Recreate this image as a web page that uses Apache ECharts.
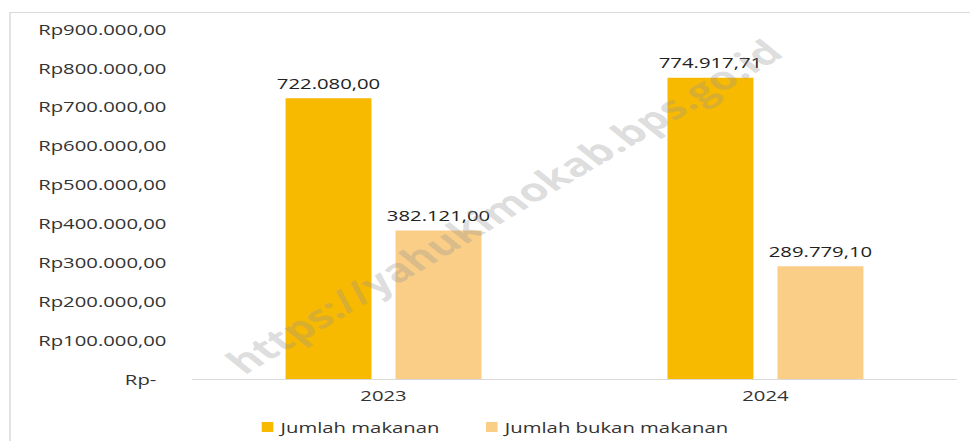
<!DOCTYPE html>
<html>
<head>
<meta charset="utf-8">
<script src="https://cdn.jsdelivr.net/npm/echarts@6/dist/echarts.min.js"></script>
<style>
html,body{margin:0;padding:0;background:#fff;overflow:hidden;}
#wrap{width:970px;height:441px;overflow:hidden;position:relative;}
#chart{width:668.97px;height:441px;transform:scaleX(1.45);transform-origin:0 0;}
</style>
</head>
<body>
<div id="wrap"><div id="chart"></div></div>
<script>
const categories = ['2023', '2024'];
const seriesNames = ['Jumlah makanan', 'Jumlah bukan makanan'];
const makanan = [722080.00, 774917.71];
const bukanMakanan = [382121.00, 289779.10];
const yTicks = [0, 100000, 200000, 300000, 400000, 500000, 600000, 700000, 800000, 900000];
const watermarkText = 'https://yahukimokab.bps.go.id';

function fmtID(v) {
  const parts = v.toFixed(2).split('.');
  const intPart = parts[0].replace(/\B(?=(\d{3})+(?!\d))/g, '.');
  return intPart + ',' + parts[1];
}

const FONT = '"Open Sans", "Noto Sans", sans-serif';
const chart = echarts.init(document.getElementById('chart'), null, {renderer: 'svg'});
const option = {
  animation: false,
  backgroundColor: '#ffffff',
  textStyle: {fontFamily: FONT},
  grid: {left: 132.8, right: 9.4, top: 29, bottom: 62, containLabel: false},
  legend: {
    left: 180.5, top: 420, padding: 0,
    itemWidth: 8, itemHeight: 10, itemGap: 32,
    icon: 'rect',
    textStyle: {fontFamily: FONT, fontSize: 14, color: '#333'},
    data: seriesNames
  },
  xAxis: {
    type: 'category',
    data: categories,
    axisLine: {lineStyle: {color: '#d9d9d9', width: 1}},
    axisTick: {show: false},
    axisLabel: {color: '#333', fontSize: 14, fontFamily: FONT, margin: 9}
  },
  yAxis: {
    type: 'value',
    min: yTicks[0],
    max: yTicks[yTicks.length - 1],
    interval: yTicks[1] - yTicks[0],
    axisLine: {show: false},
    axisTick: {show: false},
    splitLine: {show: false},
    axisLabel: {
      margin: 18,
      color: '#333',
      fontSize: 14,
      fontFamily: FONT,
      formatter: function (v) {
        if (v === 0) return '{z|Rp-}';
        return 'Rp' + fmtID(v);
      },
      rich: {z: {fontSize: 14, fontFamily: FONT, color: '#333', padding: [0, 7, 0, 0]}}
    }
  },
  series: [
    {
      name: seriesNames[0], type: 'bar', data: makanan,
      barWidth: '22.5%', barGap: '28%',
      itemStyle: {color: '#F8BA00'},
      label: {show: true, position: 'top', distance: 8, color: '#222', fontSize: 14, fontFamily: FONT,
        formatter: p => fmtID(p.value)}
    },
    {
      name: seriesNames[1], type: 'bar', data: bukanMakanan,
      barWidth: '22.5%', barGap: '28%',
      itemStyle: {color: '#FACE87'},
      label: {show: true, position: 'top', distance: 8, color: '#222', fontSize: 14, fontFamily: FONT,
        formatter: p => fmtID(p.value)}
    }
  ],
  graphic: [
    {
      type: 'polyline', z: 0, silent: true,
      shape: {points: [[6.9, 460], [6.9, 12.5], [700, 12.5]]},
      style: {stroke: '#d9d9d9', lineWidth: 1, fill: null}
    },
    {
      type: 'text', z: 100, silent: true,
      x: 347, y: 206, rotation: 40.6 * Math.PI / 180,
      style: {
        text: watermarkText,
        font: 'bold 32px "Open Sans", sans-serif',
        fill: 'rgba(150,150,150,0.32)',
        textAlign: 'center', textVerticalAlign: 'middle'
      }
    }
  ]
};
chart.setOption(option);
</script>
</body>
</html>
